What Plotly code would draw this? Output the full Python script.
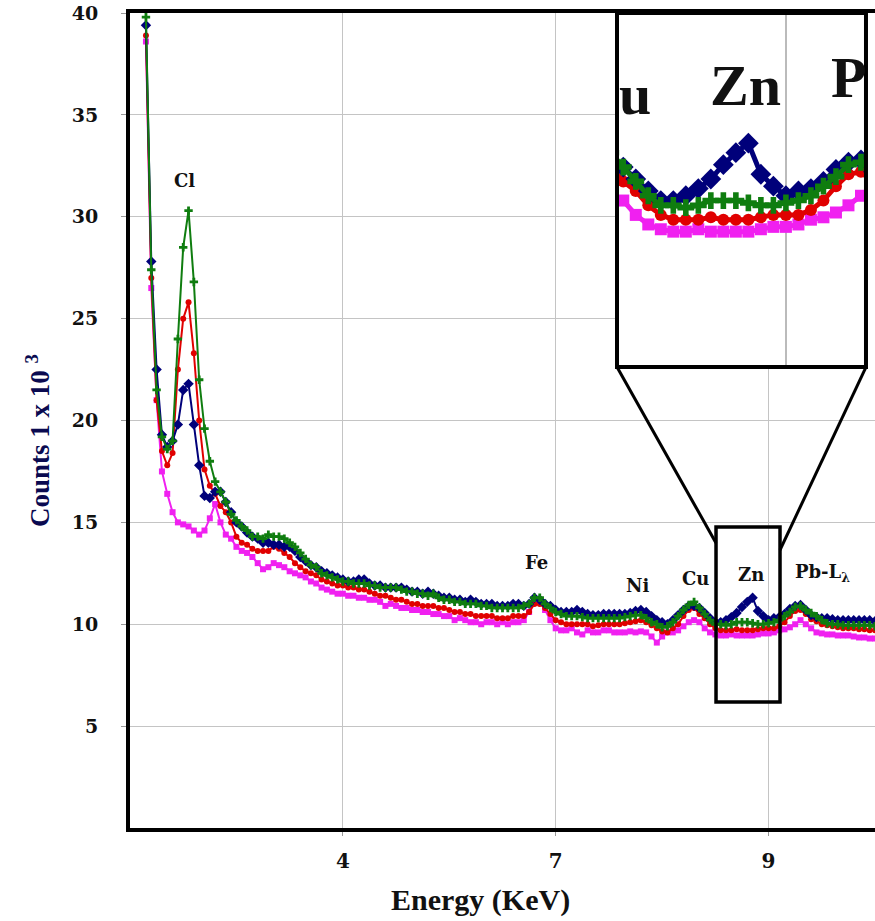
import plotly.graph_objects as go

# detector channel index (40 channels between labelled gridlines)
channel = list(range(3, 141))

navy = [39.4, 27.8, 22.5, 19.3, 18.7, 19.0, 19.8, 21.5, 21.8, 19.8,
        17.8, 16.3, 16.2, 16.5, 16.5, 16.0, 15.5, 15.0, 14.8, 14.5,
        14.3, 14.2, 14.0, 14.0, 13.9, 13.9, 13.8, 13.8, 13.6, 13.3,
        13.1, 12.9, 12.8, 12.6, 12.5, 12.4, 12.3, 12.2,
        12.1, 12.1, 12.2, 12.2, 12.0, 11.9, 11.9, 11.8, 11.8, 11.8,
        11.8, 11.7, 11.6, 11.6, 11.5, 11.6, 11.5, 11.4, 11.3, 11.3,
        11.2, 11.2, 11.1, 11.2, 11.1, 11.0, 11.0, 11.0, 10.9, 10.9,
        10.9, 11.0, 11.0, 10.9, 11.0, 11.3, 11.2, 11.0, 10.9, 10.7,
        10.6, 10.6, 10.6, 10.7, 10.6, 10.5, 10.45, 10.45, 10.5, 10.5,
        10.5, 10.5, 10.5, 10.55, 10.65, 10.7, 10.6, 10.4, 10.2, 10.1,
        10.0, 10.2, 10.45, 10.7, 10.9, 10.9, 10.8, 10.55, 10.3, 10.1,
        10.1, 10.2, 10.35, 10.55, 10.85, 11.1, 11.3, 10.65, 10.4, 10.2,
        10.3, 10.35, 10.5, 10.75, 10.9, 10.95, 10.7, 10.45, 10.35, 10.3,
        10.3, 10.25, 10.2, 10.2, 10.2, 10.2, 10.2, 10.2, 10.2, 10.15]

red = [38.9, 27.0, 21.0, 18.5, 17.8, 18.4, 22.5, 25.0, 25.8, 23.3,
       20.0, 17.6, 16.8, 16.4, 15.8, 15.5, 15.0, 14.3, 14.0, 13.9,
       13.7, 13.6, 13.6, 13.6, 13.8, 13.7, 13.5, 13.3, 13.0, 12.8,
       12.6, 12.5, 12.4, 12.2, 12.1, 12.0, 11.9, 11.9,
       11.8, 11.8, 11.7, 11.7, 11.6, 11.5, 11.4, 11.4, 11.3, 11.2,
       11.2, 11.1, 11.0, 11.0, 10.9, 10.9, 10.9, 10.8, 10.8, 10.7,
       10.6, 10.6, 10.5, 10.5, 10.4, 10.4, 10.4, 10.4, 10.3, 10.3,
       10.3, 10.4, 10.4, 10.4, 10.6, 11.0, 11.0, 10.8, 10.5, 10.2,
       10.1, 10.0, 10.0, 10.0, 10.0, 10.0, 9.9, 9.95, 10.0, 10.0,
       10.0, 10.0, 10.05, 10.1, 10.15, 10.2, 10.1, 9.95, 9.8, 9.65,
       9.6, 9.8, 10.0, 10.4, 10.7, 10.8, 10.5, 10.3, 10.0, 9.8,
       9.7, 9.7, 9.7, 9.75, 9.7, 9.7, 9.7, 9.75, 9.8, 9.8,
       9.8, 9.9, 10.1, 10.4, 10.65, 10.7, 10.5, 10.25, 10.15, 10.0,
       9.95, 9.9, 9.85, 9.8, 9.8, 9.8, 9.75, 9.75, 9.7, 9.7]

green = [39.8, 27.4, 21.5, 19.2, 18.6, 19.0, 24.0, 28.5, 30.3, 26.8,
         22.0, 19.6, 18.0, 17.0, 16.5, 16.0, 15.4, 15.1, 14.8, 14.6,
         14.3, 14.3, 14.2, 14.4, 14.3, 14.3, 14.2, 14.0, 13.8, 13.5,
         13.2, 12.9, 12.8, 12.5, 12.4, 12.3, 12.2, 12.1,
         12.1, 12.0, 12.0, 12.0, 11.9, 11.9, 11.8, 11.8, 11.8, 11.8,
         11.7, 11.6, 11.6, 11.5, 11.5, 11.4, 11.5, 11.3, 11.2, 11.2,
         11.1, 11.1, 11.0, 11.0, 11.0, 10.9, 10.9, 10.8, 10.8, 10.8,
         10.8, 10.8, 10.8, 10.9, 11.0, 11.3, 11.3, 11.0, 10.8, 10.6,
         10.5, 10.4, 10.4, 10.4, 10.35, 10.3, 10.3, 10.3, 10.3, 10.3,
         10.3, 10.3, 10.35, 10.4, 10.45, 10.45, 10.3, 10.1, 10.0, 9.85,
         9.9, 10.1, 10.4, 10.7, 10.95, 11.1, 10.8, 10.5, 10.2, 10.0,
         10.0, 9.95, 10.0, 10.1, 10.1, 10.1, 10.05, 10.0, 10.0, 10.05,
         10.1, 10.2, 10.4, 10.6, 10.85, 10.9, 10.7, 10.55, 10.4, 10.2,
         10.05, 10.0, 10.0, 9.95, 9.95, 9.95, 9.95, 9.95, 9.95, 9.9]

magenta = [38.6, 26.5, 21.0, 17.5, 16.4, 15.5, 15.0, 14.9, 14.8, 14.6,
           14.4, 14.6, 15.2, 15.9, 15.0, 14.4, 14.2, 13.8, 13.6, 13.5,
           13.3, 13.0, 12.7, 12.8, 13.0, 12.9, 12.8, 12.6, 12.5, 12.4,
           12.3, 12.1, 12.0, 11.8, 11.7, 11.6, 11.5, 11.5,
           11.4, 11.4, 11.3, 11.3, 11.2, 11.2, 11.1, 10.9, 11.0, 10.9,
           10.8, 10.8, 10.7, 10.7, 10.6, 10.6, 10.5, 10.5, 10.4, 10.4,
           10.2, 10.3, 10.2, 10.1, 10.1, 10.0, 10.1, 10.1, 10.0, 10.1,
           10.0, 10.1, 10.1, 10.2, 10.6, 11.1, 11.2, 10.7, 10.2, 9.8,
           9.7, 9.7, 9.8, 9.6, 9.5, 9.7, 9.6, 9.6, 9.7, 9.7,
           9.6, 9.6, 9.6, 9.65, 9.6, 9.65, 9.6, 9.4, 9.1, 9.4,
           9.6, 9.6, 9.7, 9.9, 10.1, 10.2, 10.1, 9.8, 9.6, 9.5,
           9.45, 9.45, 9.5, 9.45, 9.45, 9.45, 9.45, 9.5, 9.55, 9.55,
           9.6, 9.7, 9.75, 9.85, 10.0, 10.2, 10.0, 9.8, 9.6, 9.55,
           9.5, 9.5, 9.45, 9.45, 9.45, 9.4, 9.35, 9.35, 9.3, 9.3]

tick_channels = [40, 80, 120]
tick_labels = ['4', '7', '9']
y_ticks = [5, 10, 15, 20, 25, 30, 35, 40]

peak_labels = ['Cl', 'Fe', 'Ni', 'Cu', 'Zn', 'Pb-L<sub>λ</sub>']
peak_x = [10.3, 76.4, 95.3, 106.2, 116.7, 130.2]
peak_y = [31.8, 13.04, 11.9, 12.25, 12.45, 12.5]

series = [
    ('magenta', magenta, '#f020f0', 'square', 6),
    ('red', red, '#e00000', 'circle', 6),
    ('navy', navy, '#00007a', 'diamond', 8),
    ('green', green, '#0f7d0f', 'cross', 7),
]

SERIF = 'Liberation Serif, Times New Roman, serif'
WIDE_SERIF = 'DejaVu Serif, serif'

fig = go.Figure()
for name, vals, col, sym, size in series:
    fig.add_trace(go.Scatter(
        x=channel, y=vals, mode='lines+markers', name=name,
        line=dict(color=col, width=2),
        marker=dict(color=col, symbol=sym, size=size),
        xaxis='x', yaxis='y', hoverinfo='skip'))
for name, vals, col, sym, size in series:
    fig.add_trace(go.Scatter(
        x=channel, y=vals, mode='lines+markers', name=name + ' zoom',
        line=dict(color=col, width=5),
        marker=dict(color=col, symbol=sym, size=size * 2),
        xaxis='x2', yaxis='y2', hoverinfo='skip'))

fig.update_layout(
    width=875, height=921,
    margin=dict(l=130, r=0, t=13, b=93),
    paper_bgcolor='white', plot_bgcolor='white',
    showlegend=False,
    font=dict(family=SERIF, color='#111'),
    xaxis=dict(
        domain=[0, 1], range=[0, 140],
        tickvals=tick_channels, ticktext=tick_labels,
        showgrid=True, gridcolor='#c4c4c4', gridwidth=1, zeroline=False,
        showline=True, linecolor='black', linewidth=4, mirror=True,
        ticks='outside', ticklen=4, tickcolor='#999',
        ticklabelstandoff=8,
        tickfont=dict(family=WIDE_SERIF, size=20, color='#111', weight='bold'),
    ),
    yaxis=dict(
        domain=[0, 1], range=[0, 40],
        tickvals=y_ticks,
        showgrid=True, gridcolor='#c4c4c4', gridwidth=1, zeroline=False,
        showline=True, linecolor='black', linewidth=4,
        ticks='outside', ticklen=5, tickcolor='#999',
        ticklabelstandoff=19,
        tickfont=dict(family=WIDE_SERIF, size=19, color='#111', weight='bold'),
    ),
    xaxis2=dict(
        domain=[0.6537, 0.9879], range=[106.5, 126.4], anchor='y2',
        tickvals=[120], showticklabels=False, ticks='',
        showgrid=True, gridcolor='#bbbbbb', gridwidth=2, zeroline=False,
        showline=False,
    ),
    yaxis2=dict(
        domain=[0.5656, 1.0], range=[6.62, 14.02], anchor='x2',
        showticklabels=False, ticks='', showgrid=False, zeroline=False,
        showline=False,
    ),
)

# white patch hiding the main grid behind the magnified view
fig.add_shape(type='rect', xref='x', yref='y', x0=91.5, x1=142, y0=22.63, y1=41,
              fillcolor='white', line=dict(width=0), layer='between')
# magnified view frame, zoom box and connectors
fig.add_shape(type='rect', xref='paper', yref='paper', x0=0.6537, x1=0.9879,
              y0=0.5656, y1=1.0, line=dict(color='black', width=4))
fig.add_shape(type='rect', xref='paper', yref='paper', x0=0.7866, x1=0.8725,
              y0=0.1546, y1=0.3693, line=dict(color='black', width=3.5))
fig.add_shape(type='line', xref='paper', yref='paper', x0=0.6537, y0=0.5656,
              x1=0.7866, y1=0.3497, line=dict(color='black', width=3))
fig.add_shape(type='line', xref='paper', yref='paper', x0=0.9879, y0=0.5656,
              x1=0.8725, y1=0.3411, line=dict(color='black', width=3))

for lab, px, py in zip(peak_labels, peak_x, peak_y):
    fig.add_annotation(x=px, y=py, xref='x', yref='y', text='<b>' + lab + '</b>',
                       showarrow=False, xanchor='center', yanchor='middle',
                       font=dict(family=WIDE_SERIF, size=18, color='#111'))

for lab, px, py in [('u', 0.6779, 0.9000), ('Zn', 0.8268, 0.9105), ('P', 0.9651, 0.9205)]:
    fig.add_annotation(x=px, y=py, xref='paper', yref='paper', text='<b>' + lab + '</b>',
                       showarrow=False, xanchor='center', yanchor='middle',
                       font=dict(family=SERIF, size=58, color='#111'))

fig.add_annotation(x=0.4698, y=-0.0883, xref='paper', yref='paper',
                   text='<b>Energy (KeV)</b>', showarrow=False,
                   xanchor='center', yanchor='middle',
                   font=dict(family=SERIF, size=30, color='#111'))
fig.add_annotation(x=-0.1235, y=0.476, xref='paper', yref='paper', textangle=-90,
                   text='<b>Counts 1 x 10 <sup>3</sup></b>', showarrow=False,
                   xanchor='center', yanchor='middle',
                   font=dict(family=SERIF, size=27, color='#0a0a50'))

fig.write_html('out.html', config={'displayModeBar': False},
               post_script="document.body.style.margin='0';")
